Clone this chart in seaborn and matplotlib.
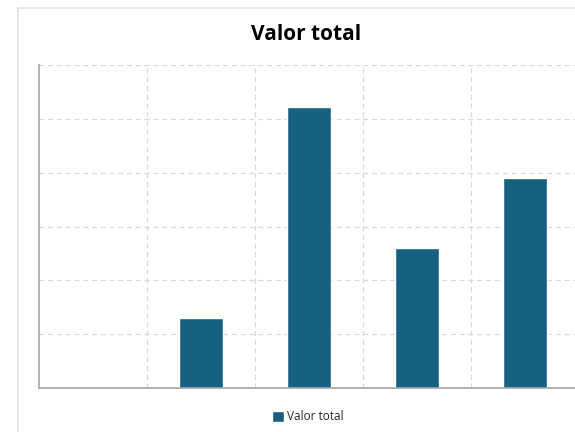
import matplotlib
matplotlib.use("Agg")
import matplotlib.pyplot as plt
import seaborn as sns
import pandas as pd
from matplotlib.lines import Line2D

# --- данные ---
categories = ["1", "2", "3", "4", "5"]
valor_total = [0.0, 1.3, 5.22, 2.6, 3.9]
series_name = "Valor total"

df = pd.DataFrame({"categoria": categories, "valor": valor_total})

sns.set_style("white")
plt.rcParams["font.family"] = ["Open Sans", "DejaVu Sans"]

W, H = 575, 432
fig = plt.figure(figsize=(W / 100, H / 100), dpi=100)
ax = fig.add_axes([39 / W, 44 / H, 540 / W, 323 / H])

bar_color = "#17607f"
sns.barplot(data=df, x="categoria", y="valor", color=bar_color, width=0.4,
            saturation=1, ax=ax, label=series_name)

ax.set_xlim(-0.5, len(categories) - 0.5)
ax.set_ylim(0, 6)
ax.set_yticks([0, 1, 2, 3, 4, 5, 6])
ax.set_xticks([i + 0.5 for i in range(len(categories) - 1)])
ax.set_xticklabels([])
ax.set_yticklabels([])
ax.tick_params(length=0)
ax.set_xlabel("")
ax.set_ylabel("")
ax.grid(True, linestyle=(0, (4, 3)), color="#d9d9d9", linewidth=0.9)
ax.set_axisbelow(True)

for side in ["top", "right"]:
    ax.spines[side].set_visible(False)
for side in ["left", "bottom"]:
    ax.spines[side].set_color("#a6a6a6")
    ax.spines[side].set_linewidth(1.2)

# рамка области диаграммы
fig.add_artist(Line2D([18 / W, 18 / W], [0, 1 - 8 / H], color="#e3e3e3", lw=1.2))
fig.add_artist(Line2D([18 / W, 1], [1 - 8 / H, 1 - 8 / H], color="#e3e3e3", lw=1.2))

fig.text(306 / W, 1 - 35 / H, series_name, ha="center", va="center",
         fontsize=15, fontweight="bold", color="#000000")

ax.legend(loc="center", bbox_to_anchor=(308 / W, 1 - 417 / H),
          bbox_transform=fig.transFigure, frameon=False, fontsize=8.5,
          handlelength=0.95, handleheight=0.95, handletextpad=0.3)

fig.savefig("out.png", dpi=100)
